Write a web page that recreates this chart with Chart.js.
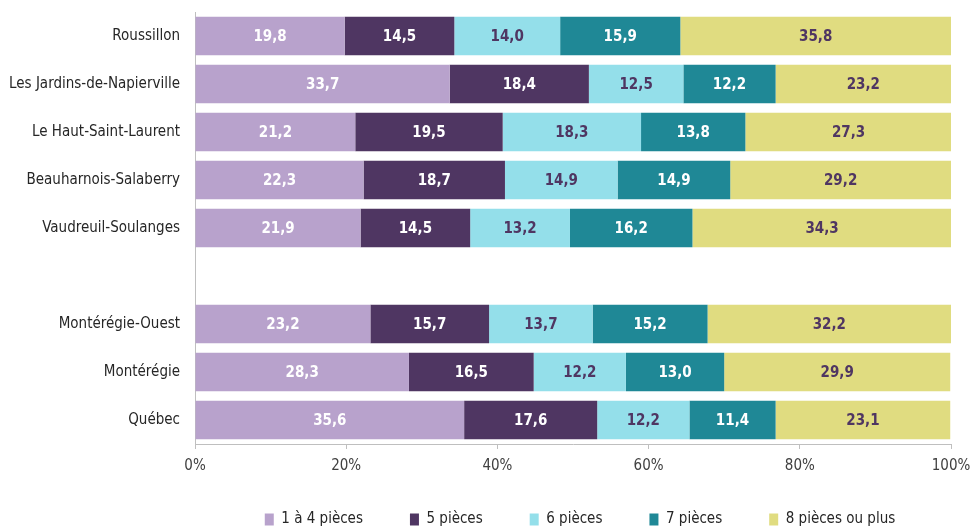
<!DOCTYPE html>
<html lang="fr">
<head>
<meta charset="UTF-8">
<title>Logements selon le nombre de pièces</title>
<script src="https://cdn.jsdelivr.net/npm/chart.js"></script>
<style>
body {
    margin: 0;
    background-color: #ffffff;
}
.chartContainer {
    position: relative;
    width: 971px;
    height: 529px;
}
</style>
</head>
<body>
<div class="chartContainer">
    <canvas id="piecesChart"></canvas>
</div>
<script>
// Territoires (une ligne vide sépare les MRC des régions)
const territoires = [
    'Roussillon',
    'Les Jardins-de-Napierville',
    'Le Haut-Saint-Laurent',
    'Beauharnois-Salaberry',
    'Vaudreuil-Soulanges',
    '',
    'Montérégie-Ouest',
    'Montérégie',
    'Québec'
];

const series = ['1 à 4 pièces', '5 pièces', '6 pièces', '7 pièces', '8 pièces ou plus'];

const unAQuatre  = [19.8, 33.7, 21.2, 22.3, 21.9, null, 23.2, 28.3, 35.6];
const cinq       = [14.5, 18.4, 19.5, 18.7, 14.5, null, 15.7, 16.5, 17.6];
const six        = [14.0, 12.5, 18.3, 14.9, 13.2, null, 13.7, 12.2, 12.2];
const sept       = [15.9, 12.2, 13.8, 14.9, 16.2, null, 15.2, 13.0, 11.4];
const huitEtPlus = [35.8, 23.2, 27.3, 29.2, 34.3, null, 32.2, 29.9, 23.1];

const xTicks = [0, 20, 40, 60, 80, 100];

const couleurs = ['#b8a2cc', '#4f3662', '#94dfea', '#1f8896', '#e0dc80'];
const couleursTexte = ['#ffffff', '#ffffff', '#4f3662', '#ffffff', '#4f3662'];

const FONT = "'Liberation Sans Narrow', 'DejaVu Sans Condensed', 'Liberation Sans', sans-serif";

// écrit la valeur au centre de chaque segment
const valeursPlugin = {
    id: 'valeurs',
    afterDatasetsDraw(chart) {
        const ctx = chart.ctx;
        ctx.save();
        ctx.font = 'bold 15px ' + FONT;
        ctx.textAlign = 'center';
        ctx.textBaseline = 'middle';
        chart.data.datasets.forEach((ds, i) => {
            const meta = chart.getDatasetMeta(i);
            meta.data.forEach((bar, j) => {
                const v = ds.data[j];
                if (v === null) return;
                ctx.fillStyle = couleursTexte[i];
                const cx = (bar.x + bar.base) / 2;
                ctx.fillText(v.toFixed(1).replace('.', ','), cx, bar.y + 1);
            });
        });
        ctx.restore();
    }
};

// place la légende juste sous les étiquettes de l'axe
const LEGENDE_HAUT = 465;
const LEGENDE_DECALAGE_X = 7;
const legendePlugin = {
    id: 'legendeRemontee',
    afterLayout(chart) {
        const l = chart.legend;
        if (!l) return;
        const d = l.top - LEGENDE_HAUT;
        l.top -= d;
        l.bottom -= d;
        l.left += LEGENDE_DECALAGE_X;
        l.right += LEGENDE_DECALAGE_X;
    }
};

const donnees = [unAQuatre, cinq, six, sept, huitEtPlus];

const ctx = document.getElementById('piecesChart').getContext('2d');
new Chart(ctx, {
    type: 'bar',
    data: {
        labels: territoires,
        datasets: series.map((nom, i) => ({
            label: nom,
            data: donnees[i],
            backgroundColor: couleurs[i],
            borderWidth: 0,
            barPercentage: 0.8,
            categoryPercentage: 1.0
        }))
    },
    options: {
        indexAxis: 'y',
        responsive: true,
        maintainAspectRatio: false,
        animation: false,
        layout: {
            padding: { top: 12, right: 20, left: 0, bottom: -18 }
        },
        scales: {
            x: {
                stacked: true,
                min: 0,
                max: 100,
                afterBuildTicks(scale) {
                    scale.ticks = xTicks.map(v => ({ value: v }));
                },
                afterFit(scale) {
                    scale.paddingLeft = 0;
                    scale.paddingRight = 0;
                },
                grid: {
                    display: true,
                    drawOnChartArea: false,
                    drawTicks: true,
                    tickLength: 5,
                    color: '#bfbfbf'
                },
                border: { color: '#bfbfbf' },
                ticks: {
                    color: '#404040',
                    padding: 8,
                    font: { family: FONT, size: 15 },
                    callback: v => v + '%'
                }
            },
            y: {
                stacked: true,
                afterFit(scale) {
                    scale.width = 195;
                    scale.paddingTop = 0;
                    scale.paddingBottom = 0;
                },
                grid: { display: false, drawTicks: false },
                border: { color: '#bfbfbf' },
                ticks: {
                    color: '#262626',
                    padding: 15,
                    font: { family: FONT, size: 15 }
                }
            }
        },
        plugins: {
            legend: {
                position: 'bottom',
                fullSize: false,
                maxHeight: 64,
                labels: {
                    color: '#262626',
                    boxWidth: 9,
                    boxHeight: 12,
                    padding: 47,
                    font: { family: FONT, size: 15 }
                }
            },
            tooltip: { enabled: false }
        }
    },
    plugins: [valeursPlugin, legendePlugin]
});
</script>
</body>
</html>
